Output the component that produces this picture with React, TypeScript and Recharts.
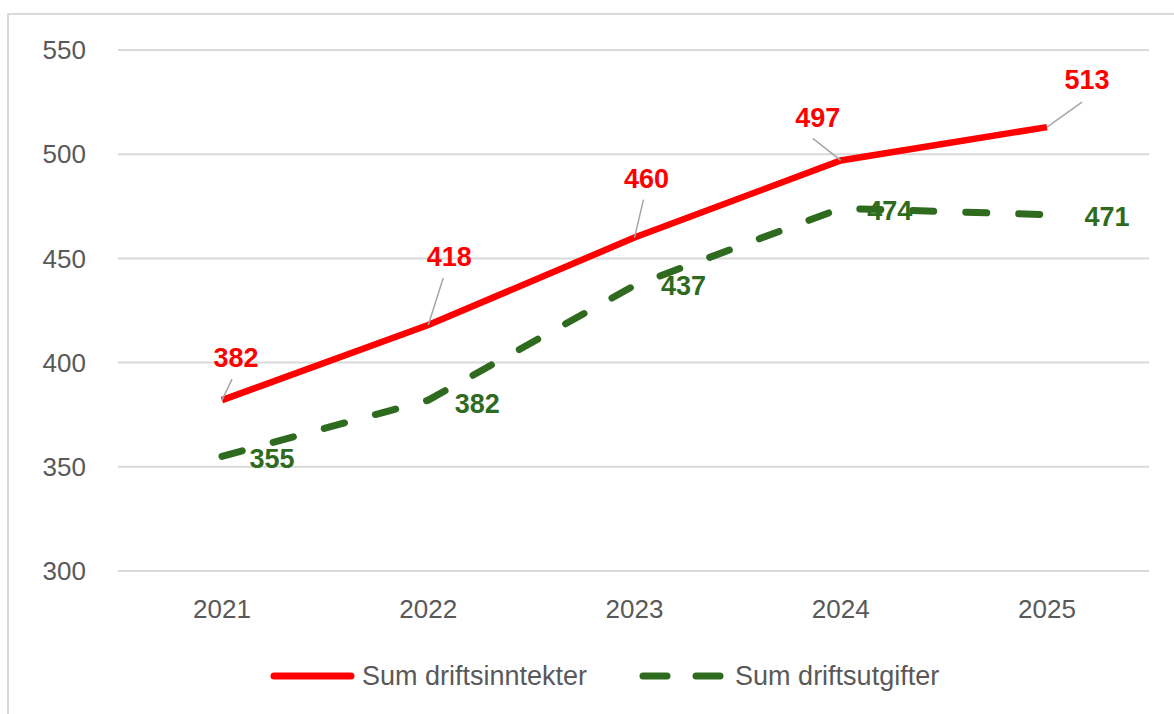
import React from 'react'
import { LineChart, Line, XAxis, YAxis, CartesianGrid, Legend } from 'recharts'

const years = ['2021', '2022', '2023', '2024', '2025']
const inntekter = [382, 418, 460, 497, 513]
const utgifter = [355, 382, 437, 474, 471]
const yTicks = [300, 350, 400, 450, 500, 550]

const RED = '#ff0000'
const GREEN = '#2e6b1e'
const FONT = '"Liberation Sans", Arial, sans-serif'

// manual label placement (text centre offset from point, leader line end)
const redLabelPos = [
  { dx: 14, dy: -43, lx: 10, ly: -21 },
  { dx: 21, dy: -69, lx: 15, ly: -47 },
  { dx: 12, dy: -59, lx: 9, ly: -38 },
  { dx: -23, dy: -43, lx: -28, ly: -22 },
  { dx: 40, dy: -48, lx: 35, ly: -25 },
]
const greenLabelPos = [
  { dx: 50, dy: 2 },
  { dx: 49, dy: 3 },
  { dx: 49, dy: 0 },
  { dx: 49, dy: 2 },
  { dx: 60, dy: 2 },
]

const data = years.map((year, i) => ({
  year,
  inntekter: inntekter[i],
  utgifter: utgifter[i],
}))

const RedLabel = (props: any) => {
  const { x, y, value, index } = props
  const p = redLabelPos[index]
  return (
    <g>
      <line x1={x} y1={y} x2={x + p.lx} y2={y + p.ly} stroke="#a6a6a6" strokeWidth={1.5} />
      <text x={x + p.dx} y={y + p.dy + 9.5} textAnchor="middle" fill={RED}
        fontFamily={FONT} fontSize={27} fontWeight="bold">{value}</text>
    </g>
  )
}

const GreenLabel = (props: any) => {
  const { x, y, value, index } = props
  const p = greenLabelPos[index]
  return (
    <text x={x + p.dx} y={y + p.dy + 9.5} textAnchor="middle" fill={GREEN}
      fontFamily={FONT} fontSize={27} fontWeight="bold">{value}</text>
  )
}

const renderLegend = (props: any) => {
  const { payload } = props
  return (
    <div style={{ display: 'flex', alignItems: 'center', fontFamily: FONT, fontSize: 27, color: '#595959', lineHeight: '30px' }}>
      {payload.map((entry: any, i: number) => (
        <div key={entry.value} style={{ display: 'flex', alignItems: 'center', marginLeft: i === 0 ? 0 : 52 }}>
          <svg width={85} height={12}>
            {i === 0 ? (
              <line x1={4} y1={6} x2={81} y2={6} stroke={RED} strokeWidth={7} strokeLinecap="round" />
            ) : (
              <g>
                <line x1={4} y1={6} x2={28} y2={6} stroke={GREEN} strokeWidth={7} strokeLinecap="round" />
                <line x1={57} y1={6} x2={81} y2={6} stroke={GREEN} strokeWidth={7} strokeLinecap="round" />
              </g>
            )}
          </svg>
          <span style={{ marginLeft: i === 0 ? 7 : 11 }}>{entry.value}</span>
        </div>
      ))}
    </div>
  )
}

export default function App() {
  return (
    <div style={{ position: 'absolute', left: 0, top: 0, width: 1174, height: 714, background: '#fff' }}>
      <div style={{
        position: 'absolute', left: 7, top: 13, width: 1167, height: 701, boxSizing: 'border-box',
        borderTop: '2px solid #d9d9d9', borderLeft: '2px solid #d9d9d9',
      }} />
      <LineChart width={1174} height={714} data={data}
        margin={{ top: 50, right: 25, left: 0, bottom: 83 }}
        style={{ position: 'absolute', left: 0, top: 0 }}>
        <CartesianGrid vertical={false} stroke="#d9d9d9" strokeWidth={2} />
        <XAxis dataKey="year" axisLine={false} tickLine={false} height={60}
          padding={{ left: 104, right: 102 }} tickMargin={23}
          tick={{ fill: '#595959', fontSize: 26, fontFamily: FONT }} />
        <YAxis domain={[300, 550]} ticks={yTicks} axisLine={false} tickLine={false}
          width={118} tickMargin={26} interval={0}
          tick={{ fill: '#595959', fontSize: 26, fontFamily: FONT }} />
        <Legend verticalAlign="middle" content={renderLegend}
          wrapperStyle={{ left: 270, top: 661, width: 'auto' }} />
        <Line dataKey="inntekter" name="Sum driftsinntekter" type="linear" stroke={RED}
          strokeWidth={6.5} dot={false} activeDot={false} isAnimationActive={false}
          label={<RedLabel />} />
        <Line dataKey="utgifter" name="Sum driftsutgifter" type="linear" stroke={GREEN}
          strokeWidth={7} strokeDasharray="21 32" strokeLinecap="round" dot={false}
          activeDot={false} isAnimationActive={false} label={<GreenLabel />} />
      </LineChart>
    </div>
  )
}
